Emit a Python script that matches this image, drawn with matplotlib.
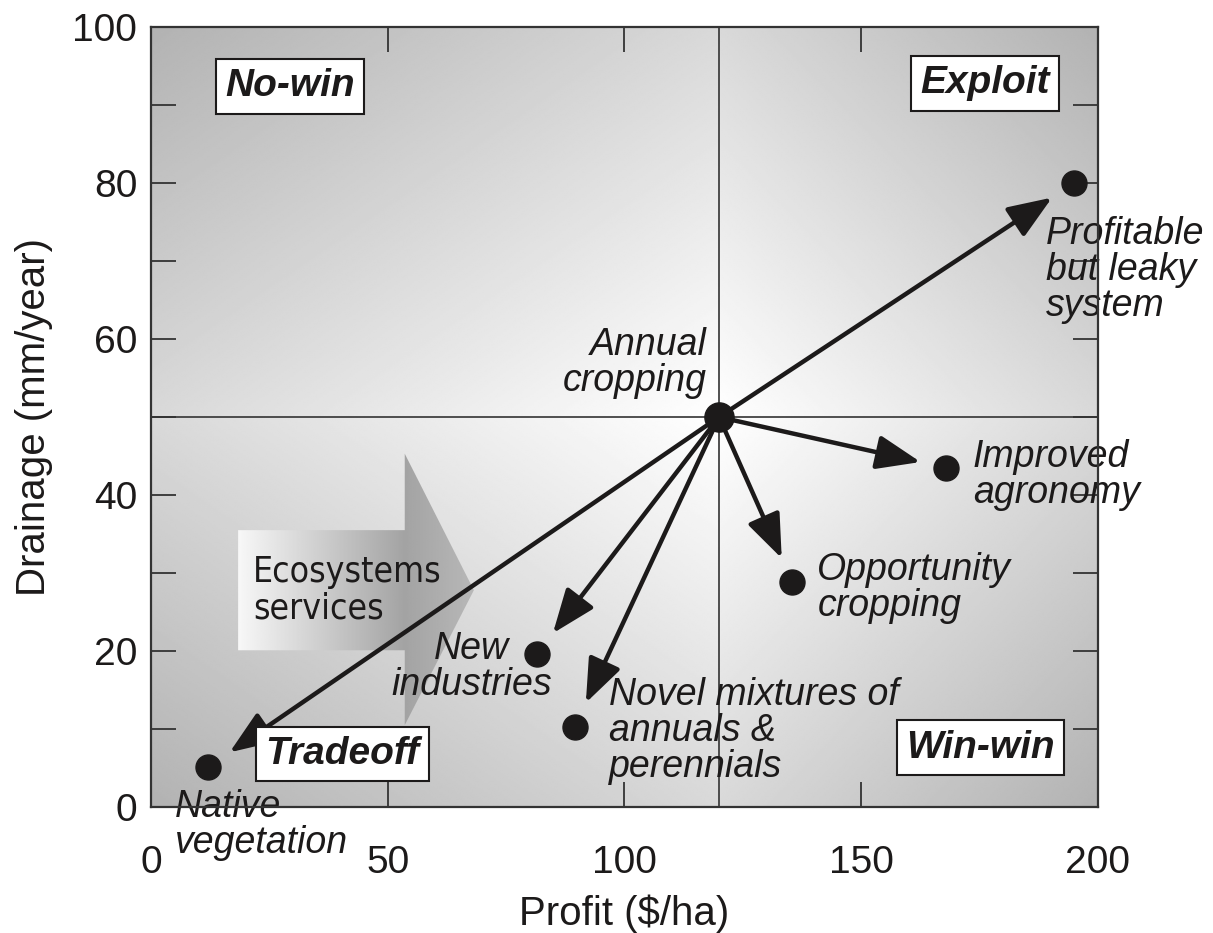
import numpy as np
import matplotlib
matplotlib.use("Agg")
import matplotlib.pyplot as plt
from matplotlib.patches import Polygon
from matplotlib import font_manager as fm

plt.rcParams['font.family'] = ['Liberation Sans', 'DejaVu Sans']

# ---------- datos ----------
sistemas = ['Annual\ncropping', 'Profitable\nbut leaky\nsystem', 'Improved\nagronomy',
            'Opportunity\ncropping', 'New\nindustries',
            'Novel mixtures of\nannuals &\nperennials', 'Native\nvegetation']
profit = [120, 195, 168, 135.5, 81.5, 89.5, 12]
drainage = [50, 80, 43.5, 28.8, 19.6, 10.3, 5.1]

cuadrantes = ['No-win', 'Exploit', 'Tradeoff', 'Win-win']
centro_x, centro_y = 120, 50

# ---------- posiciones de texto (estilo) ----------
# offset en puntos, ha, va
estilo_lbl = [(-9, 13, 'right', 'bottom'), (-20, -24, 'left', 'top'), (19, -5, 'left', 'center'),
              (18, -4, 'left', 'center'), (-47, -9, 'center', 'center'), (25, -3, 'left', 'center'),
              (-24, -16, 'left', 'top')]
pos_cuadrantes = [(29.4, 92.4), (176.1, 92.8), (40.5, 6.8), (175.3, 7.6)]

tinta = '#1c1a1a'

# fuente estrecha para "Ecosystems services" si existe
fuente_estrecha = None
for f in fm.fontManager.ttflist:
    if ('Narrow' in f.name or f.stretch in ('condensed', 'semi-condensed')) \
            and f.style == 'normal' and f.weight in (400, 'normal', 'regular'):
        fuente_estrecha = fm.FontProperties(fname=f.fname, size=25.5)
        break
if fuente_estrecha is None:
    fuente_estrecha = fm.FontProperties(family='Liberation Sans', size=25)

fig = plt.figure(figsize=(12.13, 9.33), dpi=100)
ax = fig.add_axes([0.1245, 0.135, 0.7805, 0.836])
ax.set_xlim(0, 200)
ax.set_ylim(0, 100)

# ---------- fondo degradado por cuadrante ----------
gx = np.linspace(0, 200, 800)
gy = np.linspace(0, 100, 400)
GX, GY = np.meshgrid(gx, gy)
ancho = np.where(GX < centro_x, centro_x, 200 - centro_x)
alto = np.where(GY < centro_y, centro_y, 100 - centro_y)
t = (np.abs(GX - centro_x) / ancho + np.abs(GY - centro_y) / alto) / 2
gris = 1.0 - 0.30 * t
ax.imshow(gris, extent=[0, 200, 0, 100], origin='lower', cmap='gray', vmin=0, vmax=1,
          aspect='auto', zorder=0, interpolation='bilinear')

ax.axvline(centro_x, color='#333333', lw=1.2, zorder=1)
ax.axhline(centro_y, color='#333333', lw=1.2, zorder=1)

# ---------- flecha gris "Ecosystems services" ----------
flecha = [(18.4, 35.5), (53.6, 35.5), (53.6, 45.3), (68.2, 27.8),
          (53.6, 10.5), (53.6, 20.1), (18.4, 20.1)]
poly = Polygon(flecha, closed=True, facecolor='none', edgecolor='none')
ax.add_patch(poly)
fx = np.linspace(18.4, 68.2, 300)
fg = np.interp(fx, [18.4, 53.6, 68.2], [0.97, 0.64, 0.72])
img = ax.imshow(np.tile(fg, (10, 1)), extent=[18.4, 68.2, 10.5, 45.3], origin='lower',
                cmap='gray', vmin=0, vmax=1, aspect='auto', zorder=2, interpolation='bilinear')
img.set_clip_path(poly)
ax.text(21.5, 27.8, 'Ecosystems\nservices', ha='left', va='center',
        fontproperties=fuente_estrecha, color=tinta, linespacing=1.12, zorder=3)

# ---------- flechas desde el cultivo anual ----------
for px, py in zip(profit[1:], drainage[1:]):
    ax.annotate('', xy=(px, py), xytext=(profit[0], drainage[0]),
                arrowprops=dict(arrowstyle='-|>,head_length=0.9,head_width=0.35',
                                color=tinta, lw=3.2, shrinkA=0, shrinkB=19,
                                mutation_scale=30), zorder=4)

ax.plot(profit[1:], drainage[1:], 'o', color=tinta, ms=18, zorder=5)
ax.plot(profit[:1], drainage[:1], 'o', color=tinta, ms=21, zorder=5)

for nombre, px, py, (dx, dy, ha, va) in zip(sistemas, profit, drainage, estilo_lbl):
    ax.annotate(nombre, xy=(px, py), xytext=(dx, dy), textcoords='offset points',
                ha=ha, va=va, fontsize=27, style='italic', color=tinta,
                linespacing=1.0, zorder=6)

for nombre, (qx, qy) in zip(cuadrantes, pos_cuadrantes):
    ax.text(qx, qy, nombre, ha='center', va='center', fontsize=28, weight='bold',
            style='italic', color=tinta, zorder=6,
            bbox=dict(boxstyle='square,pad=0.24', facecolor='white', edgecolor=tinta, lw=1.5))

# ---------- ejes ----------
ax.set_xticks([0, 50, 100, 150, 200])
ax.set_yticks([0, 20, 40, 60, 80, 100])
ax.set_yticks(np.arange(10, 100, 20), minor=True)
ax.tick_params(which='both', direction='in', length=18, width=1.3, color='#333333',
               top=True, right=True, labelsize=28, labelcolor=tinta)
ax.tick_params(axis='x', pad=27)
ax.tick_params(axis='y', pad=10)
for s in ax.spines.values():
    s.set_color('#333333')
    s.set_linewidth(1.6)
    s.set_zorder(7)

ax.set_xlabel('Profit ($/ha)', fontsize=29, color=tinta, labelpad=10)
ax.set_ylabel('Drainage (mm/year)', fontsize=29, color=tinta, labelpad=14)

fig.savefig('out.png', dpi=100)
